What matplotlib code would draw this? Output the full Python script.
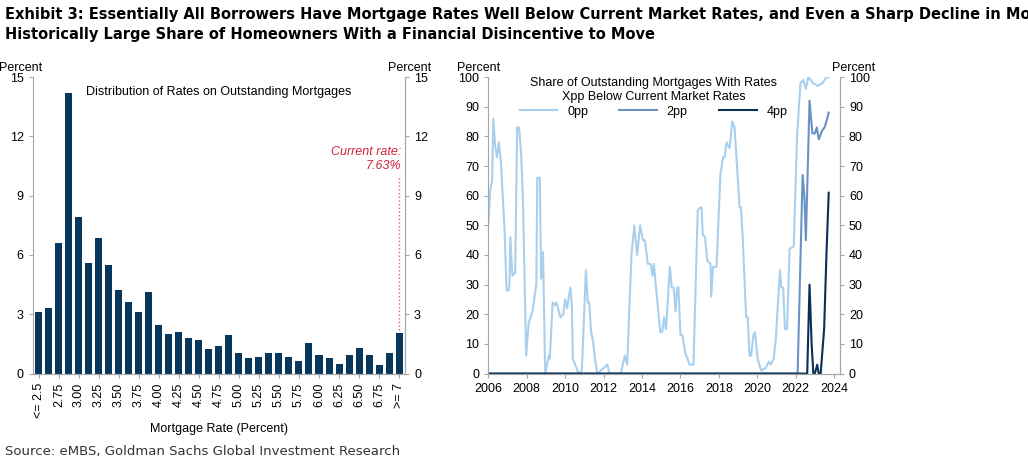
import numpy as np
import matplotlib.pyplot as plt

# left panel: distribution of rates
bar_vals = [3.1, 3.3, 6.6, 14.2, 7.9, 5.6, 6.85, 5.5, 4.25, 3.6, 3.1, 4.15, 2.45, 2.0,
            2.1, 1.8, 1.7, 1.25, 1.4, 1.95, 1.05, 0.8, 0.85, 1.05, 1.05, 0.85, 0.65,
            1.55, 0.95, 0.8, 0.5, 0.95, 1.3, 0.95, 0.45, 1.05, 2.05]
bar_labels = ['<= 2.5', '2.75', '3.00', '3.25', '3.50', '3.75', '4.00', '4.25', '4.50',
              '4.75', '5.00', '5.25', '5.50', '5.75', '6.00', '6.25', '6.50', '6.75', '>= 7']

# right panel: share below market rates (decimal year, percent)
t0 = [2006.0, 2006.1, 2006.2, 2006.26, 2006.35, 2006.45, 2006.55, 2006.65, 2006.85, 2006.95,
      2007.05, 2007.1, 2007.15, 2007.25, 2007.4, 2007.5, 2007.6, 2007.7, 2007.8, 2007.97,
      2008.1, 2008.3, 2008.5, 2008.55, 2008.68, 2008.75, 2008.85, 2008.96, 2009.15, 2009.2,
      2009.35, 2009.45, 2009.55, 2009.75, 2009.9, 2010.0, 2010.1, 2010.27, 2010.35, 2010.4,
      2010.7, 2010.87, 2011.08, 2011.18, 2011.25, 2011.35, 2011.45, 2011.55, 2011.68, 2012.2,
      2012.3, 2012.6, 2012.9, 2013.1, 2013.23, 2013.45, 2013.6, 2013.75, 2013.9, 2014.05,
      2014.15, 2014.3, 2014.45, 2014.55, 2014.62, 2014.7, 2014.95, 2015.05, 2015.15, 2015.25,
      2015.45, 2015.55, 2015.65, 2015.75, 2015.83, 2015.9, 2016.0, 2016.1, 2016.25, 2016.48,
      2016.68, 2016.9, 2017.03, 2017.1, 2017.16, 2017.28, 2017.4, 2017.57, 2017.6, 2017.7,
      2017.88, 2018.08, 2018.22, 2018.3, 2018.4, 2018.56, 2018.7, 2018.82, 2019.08, 2019.15,
      2019.25, 2019.42, 2019.5, 2019.6, 2019.68, 2019.8, 2019.88, 2020.02, 2020.2, 2020.45,
      2020.6, 2020.7, 2020.85, 2020.96, 2021.18, 2021.25, 2021.35, 2021.44, 2021.55, 2021.68,
      2021.9, 2022.07, 2022.25, 2022.4, 2022.53, 2022.66, 2022.9, 2023.15, 2023.4, 2023.6, 2023.72]
v0 = [50, 62, 65, 86, 77, 73, 78, 72, 48, 28,
      28, 30, 46, 33, 34, 83, 83, 75, 60, 6,
      17, 21, 30, 66, 66, 32, 41, 0, 6, 5,
      24, 23, 24, 19, 20, 25, 22, 29, 23, 5,
      0, 1, 35, 24, 24, 14, 11, 5, 0, 3,
      0, 0, 0, 6, 3, 40, 50, 40, 50, 45,
      45, 37, 37, 33, 37, 31, 14, 14, 19, 15,
      36, 29, 29, 21, 29, 29, 13, 13, 7, 3,
      3, 55, 56, 56, 47, 46, 38, 37, 26, 36,
      36, 67, 73, 73, 78, 76, 85, 83, 56, 56,
      45, 19, 19, 6, 6, 13, 14, 5, 1, 2,
      4, 3, 5, 11, 35, 29, 29, 15, 15, 42,
      43, 80, 98, 99, 96, 100, 98, 97, 98, 100, 100]
t2 = [2006.0, 2022.1, 2022.36, 2022.45, 2022.53, 2022.72, 2022.87, 2023.0, 2023.1, 2023.2,
      2023.38, 2023.5, 2023.6, 2023.72]
v2 = [0, 0, 67, 60, 45, 92, 81, 81, 83, 79, 82, 83, 85, 88]
t4 = [2006.0, 2022.6, 2022.72, 2022.83, 2022.92, 2023.0, 2023.12, 2023.2, 2023.3, 2023.48,
      2023.6, 2023.72]
v4 = [0, 0, 30, 10, 0, 0, 3, 0, 0, 15, 40, 61]

fig = plt.figure(figsize=(10.28, 4.67), dpi=100)
plt.rcParams['font.family'] = ['Liberation Sans', 'DejaVu Sans']
gray = '#a6a6a6'

fig.text(0.005, 0.985, 'Exhibit 3: Essentially All Borrowers Have Mortgage Rates Well Below Current Market Rates, '
         'and Even a Sharp Decline in Mortgage Rates Would Leave a\nHistorically Large Share of Homeowners '
         'With a Financial Disincentive to Move', fontsize=10.5, fontweight='bold', va='top',
         linespacing=1.4, family=['Liberation Sans Narrow', 'DejaVu Sans'])
fig.text(0.005, 0.025, 'Source: eMBS, Goldman Sachs Global Investment Research', fontsize=9.5,
         color='#333333', family=['Liberation Sans Narrow', 'DejaVu Sans'])


def style(ax):
    ax.spines['top'].set_visible(False)
    for s in ['left', 'right', 'bottom']:
        ax.spines[s].set_color(gray)
    ax.tick_params(colors='black', labelsize=9, length=3)
    ax.tick_params(axis='both', color=gray)


# left
ax1 = fig.add_axes([0.032, 0.2, 0.362, 0.635])
x = np.arange(len(bar_vals))
ax1.bar(x, bar_vals, width=0.7, color='#08375e')
ax1.set_xlim(-0.6, len(bar_vals) - 0.4)
ax1.set_ylim(0, 15)
ax1.set_yticks(np.arange(0, 16, 3))
ax1.set_xticks(x[::2])
ax1.set_xticklabels(bar_labels, rotation=90)
style(ax1)
ax1r = ax1.twinx()
ax1r.set_ylim(0, 15)
ax1r.set_yticks(np.arange(0, 16, 3))
style(ax1r)
ax1r.spines['left'].set_visible(False)
ax1.text(-0.09, 1.02, 'Percent', transform=ax1.transAxes, fontsize=9)
ax1.text(1.07, 1.02, 'Percent', transform=ax1.transAxes, fontsize=9, ha='right')
ax1.text(0.5, 0.97, 'Distribution of Rates on Outstanding Mortgages', transform=ax1.transAxes,
         fontsize=9, ha='center', va='top')
ax1.set_xlabel('Mortgage Rate (Percent)', fontsize=9)
ax1.plot([36, 36], [2.2, 10], color='#e06070', ls=':', lw=1)
ax1.text(36.2, 10.2, 'Current rate:\n7.63%', color='#d0243c', style='italic', fontsize=9,
         ha='right', va='bottom')

# right
ax2 = fig.add_axes([0.475, 0.2, 0.342, 0.635])
ax2.plot(t0, v0, color='#a8d0ee', lw=1.5, label='0pp')
ax2.plot(t2, v2, color='#6a93c4', lw=1.5, label='2pp')
ax2.plot(t4, v4, color='#0b2f55', lw=1.5, label='4pp')
ax2.set_xlim(2006, 2024.3)
ax2.set_ylim(0, 100)
ax2.set_yticks(np.arange(0, 101, 10))
ax2.set_xticks(np.arange(2006, 2025, 2))
style(ax2)
ax2r = ax2.twinx()
ax2r.set_ylim(0, 100)
ax2r.set_yticks(np.arange(0, 101, 10))
style(ax2r)
ax2r.spines['left'].set_visible(False)
ax2.text(-0.09, 1.02, 'Percent', transform=ax2.transAxes, fontsize=9)
ax2.text(1.1, 1.02, 'Percent', transform=ax2.transAxes, fontsize=9, ha='right')
ax2.text(0.47, 1.0, 'Share of Outstanding Mortgages With Rates\nXpp Below Current Market Rates',
         transform=ax2.transAxes, fontsize=9, ha='center', va='top')
ax2.legend(loc='upper center', bbox_to_anchor=(0.47, 0.92), ncol=3, frameon=False, fontsize=9,
           handlelength=3, columnspacing=2.5, borderaxespad=0)

fig.savefig('out.png', dpi=100)
